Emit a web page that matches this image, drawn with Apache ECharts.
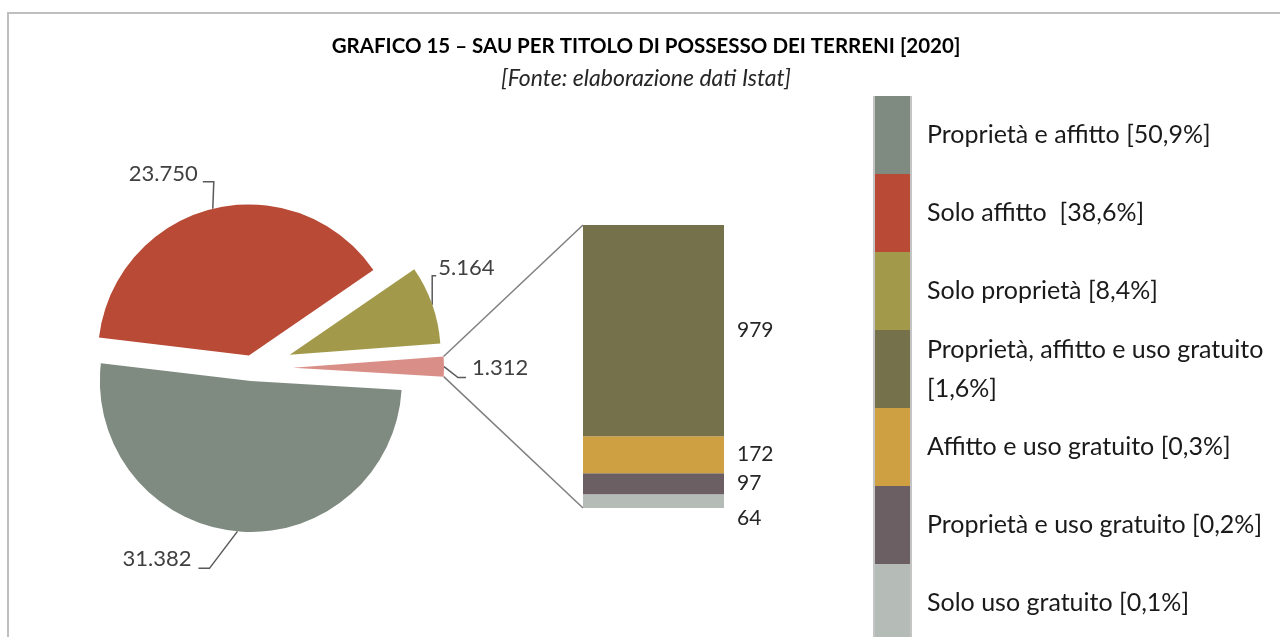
<!DOCTYPE html>
<html>
<head>
<meta charset="utf-8">
<script src="https://cdn.jsdelivr.net/npm/echarts@6/dist/echarts.min.js"></script>
<style>html,body{margin:0;padding:0;background:#fff}#chart{width:1280px;height:637px}</style>
</head>
<body>
<div id="chart"></div>
<script>
// ---------- data ----------
const titleText = 'GRAFICO 15 – SAU PER TITOLO DI POSSESSO DEI TERRENI [2020]';
const subtitleText = '[Fonte: elaborazione dati Istat]';
const pieNames = ['Proprietà e affitto', 'Solo affitto', 'Solo proprietà', 'Altri titoli di possesso'];
const pieValues = [31382, 23750, 5164, 1312];
const barNames = ['Proprietà, affitto e uso gratuito', 'Affitto e uso gratuito', 'Proprietà e uso gratuito', 'Solo uso gratuito'];
const barValues = [979, 172, 97, 64];
const legendNames = [pieNames[0], pieNames[1], pieNames[2]].concat(barNames);
const legendTexts = ['Proprietà e affitto [50,9%]', 'Solo affitto  [38,6%]', 'Solo proprietà [8,4%]',
  'Proprietà, affitto e uso gratuito\n[1,6%]', 'Affitto e uso gratuito [0,3%]',
  'Proprietà e uso gratuito [0,2%]', 'Solo uso gratuito [0,1%]'];

// ---------- styles / layout ----------
const pieColors = ['#7f8b81', '#b84a36', '#a29a4a', '#d98f88'];
const barColors = ['#75714b', '#cfa042', '#6b5f63', '#b5bcb7'];
const FONT = 'Lato';
const pieCenter = [252, 368];
const pieRadius = 151;
const pieStart = -3.4;
const pieExplode = [13, 13, 40, 41];
// leader line geometry relative to the library's anchor point on the arc
const pieLabelGeom = [
  {bx: -28, by: 37, len2: -11, gap: 7, dy: -9},
  {bx: 1, by: -27, len2: -11, gap: 5, dy: -8},
  {bx: 0, by: -29, len2: 4, gap: 2, dy: -8},
  {bx: 14, by: 11, len2: 8, gap: 6, dy: -10}
];
const barGrid = {left: 583, top: 225, width: 141, height: 283};
const barLabelOffsetY = [0, 0, 0, 17];

const fmt = v => String(v).replace(/\B(?=(\d{3})+(?!\d))/g, '.');
const pieTotal = pieValues.reduce((a, b) => a + b, 0);
const barTotal = barValues.reduce((a, b) => a + b, 0);

// slice angles (degrees, counter-clockwise positive, drawn clockwise from pieStart)
let acc = 0;
const sliceAngles = pieValues.map(v => {
  const a0 = pieStart - 360 * acc / pieTotal;
  acc += v;
  const a1 = pieStart - 360 * acc / pieTotal;
  return {a0, a1, mid: (a0 + a1) / 2};
});
const rad = d => d * Math.PI / 180;
const sliceCenters = sliceAngles.map((s, k) => [
  pieCenter[0] + pieExplode[k] * Math.cos(rad(s.mid)),
  pieCenter[1] - pieExplode[k] * Math.sin(rad(s.mid))
]);

const pieSeries = pieValues.map((_, k) => ({
  type: 'pie',
  silent: true,
  animation: false,
  center: sliceCenters[k],
  radius: pieRadius,
  startAngle: pieStart,
  clockwise: true,
  avoidLabelOverlap: false,
  itemStyle: {borderWidth: 0},
  label: {show: false},
  labelLine: {show: false},
  data: pieValues.map((v, j) => j === k ? {
    name: pieNames[j], value: v,
    itemStyle: {color: pieColors[j], borderWidth: 0},
    label: {show: true, position: 'outside', formatter: p => fmt(p.value),
      color: '#404040', fontFamily: FONT, fontSize: 22},
    labelLine: {show: true, length: 10, length2: 10, smooth: false,
      lineStyle: {color: '#595959', width: 1.5}}
  } : {
    value: v, itemStyle: {color: 'rgba(0,0,0,0)', borderWidth: 0},
    label: {show: false}, labelLine: {show: false}
  }),
  labelLayout: function (p) {
    const g = pieLabelGeom[p.seriesIndex];
    const pts = p.labelLinePoints;
    if (!g || !pts) return {};
    const p0 = pts[0];
    const bend = [p0[0] + g.bx, p0[1] + g.by];
    const end = [bend[0] + g.len2, bend[1]];
    const right = g.len2 > 0;
    return {
      x: end[0] + (right ? g.gap : -g.gap),
      y: end[1] + g.dy,
      align: right ? 'left' : 'right',
      verticalAlign: 'middle',
      labelLinePoints: [p0, bend, end]
    };
  }
}));

const barSeries = [3, 2, 1, 0].map(i => ({
  type: 'bar',
  name: barNames[i],
  stack: 'altri',
  silent: true,
  animation: false,
  barWidth: '100%',
  data: [barValues[i]],
  itemStyle: {color: barColors[i]},
  label: {show: true, position: 'right', distance: 13, offset: [0, barLabelOffsetY[i]],
    formatter: p => fmt(p.value), color: '#262626', fontFamily: FONT, fontSize: 21}
}));

const chart = echarts.init(document.getElementById('chart'), null, {renderer: 'canvas'});
chart.setOption({
  backgroundColor: '#ffffff',
  animation: false,
  title: [
    {text: titleText, left: 646, top: 35.5, textAlign: 'center', padding: 0,
      textStyle: {fontFamily: FONT, fontWeight: 'bold', fontSize: 20.5, color: '#000'}},
    {text: subtitleText, left: 646, top: 67.5, textAlign: 'center', padding: 0,
      textStyle: {fontFamily: FONT, fontStyle: 'italic', fontWeight: 'normal', fontSize: 23, color: '#262626'}}
  ],
  legend: {
    orient: 'vertical', left: 875, top: 96, height: 600, padding: 0,
    itemWidth: 35, itemHeight: 78, itemGap: 0, icon: 'rect',
    selectedMode: false,
    data: legendNames,
    formatter: name => legendTexts[legendNames.indexOf(name)],
    textStyle: {fontFamily: FONT, fontSize: 25, color: '#1a1a1a', lineHeight: 39, padding: [0, 0, 0, 12]}
  },
  grid: barGrid,
  xAxis: {type: 'category', data: ['altri'], show: false},
  yAxis: {type: 'value', min: 0, max: barTotal, show: false},
  series: pieSeries.concat(barSeries)
});

// decorations: frame, legend strip border, connector lines between pie slice and bar
const pink = sliceAngles[3], pc = sliceCenters[3];
const cornerA = [pc[0] + pieRadius * Math.cos(rad(pink.a0)), pc[1] - pieRadius * Math.sin(rad(pink.a0))];
const cornerB = [pc[0] + pieRadius * Math.cos(rad(pink.a1)), pc[1] - pieRadius * Math.sin(rad(pink.a1))];
const barTop = chart.convertToPixel({yAxisIndex: 0}, barTotal);
const barBottom = chart.convertToPixel({yAxisIndex: 0}, 0);
chart.setOption({
  graphic: [
    {type: 'line', silent: true, shape: {x1: 8, y1: 13, x2: 1280, y2: 13}, style: {stroke: '#bfbfbf', lineWidth: 2}},
    {type: 'line', silent: true, shape: {x1: 8, y1: 12, x2: 8, y2: 637}, style: {stroke: '#bfbfbf', lineWidth: 2}},
    {type: 'rect', silent: true, z: -1, shape: {x: 873, y: 96, width: 39, height: 560}, style: {fill: '#c4c4c4'}},
    {type: 'line', silent: true, shape: {x1: cornerA[0], y1: cornerA[1], x2: barGrid.left, y2: barTop}, style: {stroke: '#7f7f7f', lineWidth: 1.5}},
    {type: 'line', silent: true, shape: {x1: cornerB[0], y1: cornerB[1], x2: barGrid.left, y2: barBottom}, style: {stroke: '#7f7f7f', lineWidth: 1.5}}
  ]
});
</script>
</body>
</html>
